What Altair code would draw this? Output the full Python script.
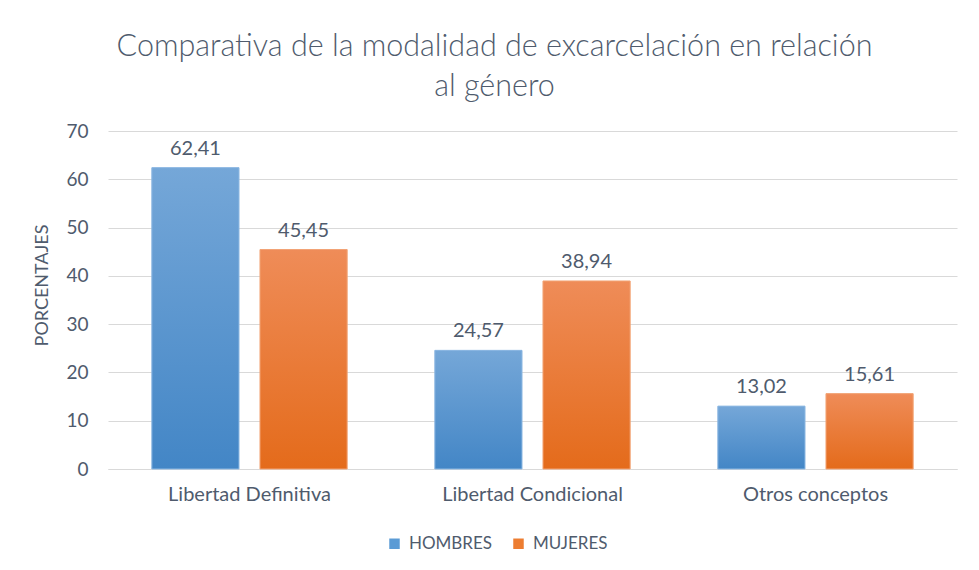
import altair as alt
import pandas as pd

categories = ["Libertad Definitiva", "Libertad Condicional", "Otros conceptos"]
series = ["HOMBRES", "MUJERES"]
hombres = [62.41, 24.57, 13.02]
mujeres = [45.45, 38.94, 15.61]

rows = []
for i, c in enumerate(categories):
    for s, vals in zip(series, [hombres, mujeres]):
        v = vals[i]
        rows.append({"cat": c, "serie": s, "val": v, "lab": f"{v:.2f}".replace(".", ",")})
df = pd.DataFrame(rows)

FONT = "Lato"
TXT = "#4F5B6D"

x_enc = alt.X("cat:N", sort=categories, title=None,
              scale=alt.Scale(paddingInner=0.31, paddingOuter=0.155),
              axis=alt.Axis(labelAngle=0, ticks=False, labelPadding=15, labelFontSize=20,
                            labelLimit=400, labelFont=FONT, labelColor=TXT, domainColor="#D9D9D9"))
xo_enc = alt.XOffset("serie:N", sort=series, scale=alt.Scale(paddingInner=0.194, paddingOuter=0))
y_enc = alt.Y("val:Q", title="PORCENTAJES",
              scale=alt.Scale(domain=[0, 70], nice=False),
              axis=alt.Axis(values=list(range(0, 71, 10)), grid=True, gridColor="#D9D9D9",
                            domain=False, ticks=False, labelPadding=20, labelFontSize=19,
                            labelFont=FONT, labelColor=TXT, titleFont=FONT, titleFontSize=18,
                            titleFontWeight="normal", titleColor=TXT, titlePadding=14,
                            titleY=154))

base = alt.Chart(df).encode(x=x_enc, xOffset=xo_enc, y=y_enc)

bars = base.mark_bar().encode(
    color=alt.Color("serie:N", sort=series, title=None,
                    scale=alt.Scale(domain=series, range=["#5B9BD5", "#ED7D31"]),
                    legend=alt.Legend(orient="none", legendX=278, legendY=404, direction="horizontal",
                                      symbolType="square", symbolSize=110, symbolStrokeWidth=0,
                                      labelFont=FONT, labelFontSize=17, labelColor=TXT,
                                      columnPadding=17, labelOffset=6))
)

blue_grad = alt.Gradient(gradient="linear", x1=0, x2=0, y1=0, y2=1,
                         stops=[alt.GradientStop(color="#75A7D8", offset=0),
                                alt.GradientStop(color="#4386C6", offset=1)])
orange_grad = alt.Gradient(gradient="linear", x1=0, x2=0, y1=0, y2=1,
                           stops=[alt.GradientStop(color="#EF8C58", offset=0),
                                  alt.GradientStop(color="#E46B1B", offset=1)])

h_bars = base.mark_bar(fill=blue_grad, stroke="#8DB8E2", strokeWidth=1).transform_filter(
    alt.datum.serie == "HOMBRES")
m_bars = base.mark_bar(fill=orange_grad, stroke="#F2A476", strokeWidth=1).transform_filter(
    alt.datum.serie == "MUJERES")

labels = base.mark_text(baseline="alphabetic", dy=-13, font=FONT, fontSize=20, color=TXT).encode(
    text="lab:N")

chart = alt.layer(bars, h_bars, m_bars, labels).properties(
    width=849, height=338,
    autosize=alt.AutoSizeParams(type="none"),
    padding={"left": 100, "top": 123, "right": 14, "bottom": 93},
    title=alt.TitleParams(
        text=["Comparativa de la modalidad de excarcelación en relación", "al género"],
        font=FONT, fontSize=30.5, fontWeight=300, color=TXT, lineHeight=40,
        anchor="middle", dx=-38, offset=20),
).configure_view(stroke=None)

chart.save("out.html", embed_options={"renderer": "svg", "actions": False})
